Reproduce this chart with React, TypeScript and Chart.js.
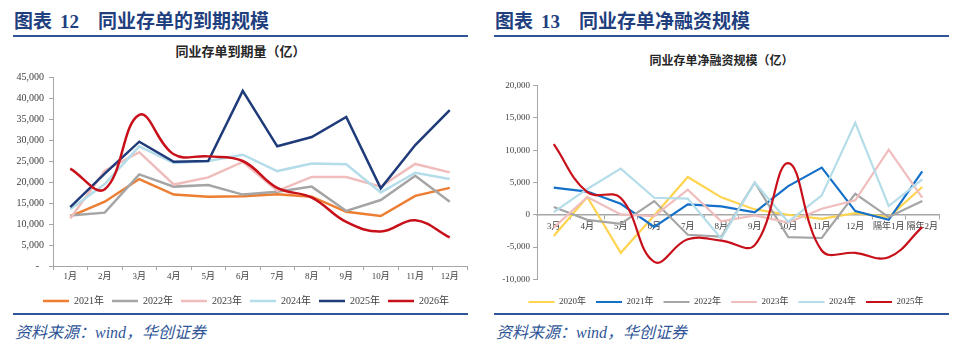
import React, { useEffect, useRef } from 'react';
import { Chart, registerables } from 'chart.js';

Chart.register(...registerables);

// ---------- Left chart: 同业存单到期量（亿） ----------
const maturityMonths = ['1月', '2月', '3月', '4月', '5月', '6月', '7月', '8月', '9月', '10月', '11月', '12月'];
const maturityYears = ['2021年', '2022年', '2023年', '2024年', '2025年', '2026年'];
const maturity2021 = [11800, 15300, 20700, 17000, 16500, 16600, 17100, 16500, 12900, 11900, 16700, 18600];
const maturity2022 = [12000, 12700, 21800, 18900, 19300, 17000, 17700, 18900, 13100, 15700, 21500, 15300];
const maturity2023 = [11300, 22700, 27100, 19400, 21100, 24800, 17900, 21200, 21200, 18900, 24300, 22300];
const maturity2024 = [13500, 19500, 28500, 24500, 25000, 26500, 22600, 24400, 24200, 17500, 22200, 20700];
const maturity2025 = [14000, 22000, 29600, 24800, 25000, 41700, 28500, 30700, 35500, 18500, 28800, 37100];
const maturity2026 = [23200, 18300, 36000, 26600, 26100, 25000, 18600, 16300, 10500, 8200, 10900, 6800];
const maturitySeries = [maturity2021, maturity2022, maturity2023, maturity2024, maturity2025, maturity2026];
const maturityColors = ['#ED7D31', '#A5A5A5', '#F0BDBD', '#B4DDE9', '#1F3B7A', '#C8101A'];
const maturityYMin = 0;
const maturityYMax = 45000;
const maturityYStep = 5000;

// ---------- Right chart: 同业存单净融资规模（亿） ----------
const netMonths = ['3月', '4月', '5月', '6月', '7月', '8月', '9月', '10月', '11月', '12月', '隔年1月', '隔年2月'];
const netYears = ['2020年', '2021年', '2022年', '2023年', '2024年', '2025年'];
const net2020 = [-3300, 2750, -5900, -100, 5850, 2700, 830, 0, -620, 260, -360, 4300];
const net2021 = [4200, 3600, 1700, -1900, 1600, 1300, 360, 4450, 7300, 570, -780, 6730];
const net2022 = [1190, -780, -1400, 2120, -3100, -3400, 5000, -3470, -3600, 3260, -360, 2120];
const net2023 = [-2000, 2750, 50, -200, 3900, -1000, -100, -1200, 930, 2230, 10100, 2640];
const net2024 = [400, 4000, 7150, 2640, 2500, -3700, 4970, -1100, 3000, 14250, 1350, 5490];
const net2025 = [10930, 3500, 2600, -7300, -3800, -4000, -4700, 8000, -5540, -5900, -6580, -1920];
const netSeries = [net2020, net2021, net2022, net2023, net2024, net2025];
const netColors = ['#FFD44F', '#1470C8', '#A5A5A5', '#F0BDBD', '#B4DDE9', '#C8101A'];
const netYMin = -10000;
const netYMax = 20000;
const netYStep = 5000;

const SERIF = "'Liberation Serif', 'Noto Sans CJK SC', serif";
const HEAD = "'Liberation Serif', 'Noto Sans CJK SC', serif";
const AXIS = '#A6A6A6';
const TICK = '#404040';
const BLUE = '#2F5597';
const HEAD_COLOR = '#1F3F7F';

function ChartCanvas(props: { left: number; top: number; width: number; height: number; build: () => any }) {
  const ref = useRef<HTMLCanvasElement>(null);
  useEffect(() => {
    const chart = new Chart(ref.current as HTMLCanvasElement, props.build());
    return () => chart.destroy();
  }, []);
  return (
    <canvas
      ref={ref}
      width={props.width}
      height={props.height}
      style={{ position: 'absolute', left: props.left, top: props.top, width: props.width, height: props.height, zIndex: 2 }}
    />
  );
}

const legendSort = (a: any, b: any) => a.datasetIndex - b.datasetIndex;

// shifts the (centered) legend horizontally so it is centered where the reference has it
function legendShift(dx: number) {
  return {
    id: 'legendShift',
    afterLayout(chart: any) {
      const lg = chart.legend;
      if (lg) {
        lg.left += dx;
        lg.right += dx;
      }
    },
  };
}

function buildMaturity() {
  return {
    type: 'line',
    data: {
      labels: maturityMonths,
      datasets: maturitySeries.map((d, i) => ({
        label: maturityYears[i],
        data: d,
        borderColor: maturityColors[i],
        backgroundColor: maturityColors[i],
        borderWidth: 2.5,
        pointRadius: 0,
        pointHoverRadius: 0,
        tension: i === 5 ? 0.4 : 0,
        order: maturitySeries.length - i,
      })),
    },
    plugins: [legendShift(12.5)],
    options: {
      responsive: false,
      animation: false,
      layout: { padding: { left: 0, right: 13, top: 17, bottom: 2 } },
      plugins: {
        legend: {
          position: 'bottom',
          labels: {
            usePointStyle: true,
            pointStyle: 'line',
            pointStyleWidth: 26,
            padding: 8,
            color: TICK,
            font: { family: SERIF, size: 10 },
            sort: legendSort,
          },
        },
        tooltip: { enabled: false },
      },
      scales: {
        x: {
          type: 'category',
          offset: true,
          grid: { offset: true, drawOnChartArea: false, drawTicks: true, tickLength: 4, color: AXIS },
          border: { display: true, color: AXIS, width: 1 },
          ticks: { color: TICK, font: { family: SERIF, size: 9 }, padding: 1, maxRotation: 0, autoSkip: false },
          afterFit: (s: any) => {
            s.height = 22;
          },
        },
        y: {
          min: maturityYMin,
          max: maturityYMax,
          ticks: {
            stepSize: maturityYStep,
            color: TICK,
            font: { family: SERIF, size: 10 },
            padding: 5,
            callback: (v: any) => (Number(v) === 0 ? '-  ' : Number(v).toLocaleString('en-US')),
          },
          grid: { drawOnChartArea: false, drawTicks: true, tickLength: 4, color: AXIS },
          border: { display: true, color: AXIS, width: 1 },
          afterFit: (s: any) => {
            s.width = 53;
          },
        },
      },
    },
  };
}

function buildNet() {
  return {
    type: 'line',
    data: {
      labels: netMonths,
      datasets: netSeries.map((d, i) => ({
        label: netYears[i],
        data: d,
        borderColor: netColors[i],
        backgroundColor: netColors[i],
        borderWidth: 2.2,
        pointRadius: 0,
        pointHoverRadius: 0,
        tension: i === 5 ? 0.4 : 0,
        order: netSeries.length - i,
      })),
    },
    plugins: [legendShift(16)],
    options: {
      responsive: false,
      animation: false,
      layout: { padding: { left: 0, right: 21, top: 15.7, bottom: 3.5 } },
      plugins: {
        legend: {
          position: 'bottom',
          title: { display: true, text: ' ', font: { size: 1 }, padding: { top: 7, bottom: 0 } },
          labels: {
            usePointStyle: true,
            pointStyle: 'line',
            pointStyleWidth: 26,
            padding: 10,
            color: TICK,
            font: { family: SERIF, size: 9 },
            sort: legendSort,
          },
        },
        tooltip: { enabled: false },
      },
      scales: {
        y: {
          min: netYMin,
          max: netYMax,
          ticks: {
            stepSize: netYStep,
            color: TICK,
            font: { family: SERIF, size: 9 },
            padding: 3,
            callback: (v: any) => Number(v).toLocaleString('en-US'),
          },
          grid: { drawOnChartArea: false, drawTicks: true, tickLength: 4, color: AXIS },
          border: { display: true, color: AXIS, width: 1 },
          afterFit: (s: any) => {
            s.width = 56;
          },
        },
        x: {
          type: 'category',
          position: { y: 0 },
          offset: true,
          grid: { offset: true, drawOnChartArea: false, drawTicks: true, tickLength: 4, color: AXIS },
          border: { display: true, color: AXIS, width: 1.5 },
          ticks: { color: TICK, font: { family: SERIF, size: 9 }, padding: 2, maxRotation: 0, autoSkip: false },
        },
      },
    },
  };
}

function Panel(props: { x: number; num: string; title: string; chartTitle: string; chartTitleTop: number; chartTitleSize: number }) {
  const { x } = props;
  return (
    <>
      <div
        style={{
          position: 'absolute',
          left: x + 14,
          top: 12,
          height: 20,
          lineHeight: '20px',
          fontSize: 19,
          fontWeight: 700,
          fontFamily: HEAD,
          color: HEAD_COLOR,
          whiteSpace: 'nowrap',
        }}
      >
        <span>图表</span>
        <span style={{ marginLeft: 8 }}>{props.num}</span>
        <span style={{ marginLeft: 19 }}>{props.title}</span>
      </div>
      <div style={{ position: 'absolute', left: x + 13, top: 35, width: 455, height: 2, background: BLUE }} />
      <div
        style={{
          position: 'absolute',
          left: x,
          width: 481,
          top: props.chartTitleTop,
          height: 16,
          lineHeight: '16px',
          textAlign: 'center',
          fontSize: props.chartTitleSize,
          fontWeight: 700,
          fontFamily: SERIF,
          color: '#262626',
          whiteSpace: 'nowrap',
        }}
      >
        {props.chartTitle}
      </div>
      <div style={{ position: 'absolute', left: x + 13, top: 313, width: 455, height: 2, background: BLUE, zIndex: 3 }} />
      <div
        style={{
          position: 'absolute',
          left: x + 15,
          top: 324,
          height: 18,
          lineHeight: '18px',
          fontSize: 16,
          fontStyle: 'italic',
          fontFamily: SERIF,
          color: BLUE,
          whiteSpace: 'nowrap',
        }}
      >
        资料来源：wind，华创证券
      </div>
    </>
  );
}

export default function App() {
  return (
    <div style={{ position: 'absolute', left: 0, top: 0, width: 960, height: 350, background: '#fff', overflow: 'hidden' }}>
      <Panel x={0} num="12" title="同业存单的到期规模" chartTitle="同业存单到期量（亿）" chartTitleTop={44} chartTitleSize={13} />
      <Panel x={481} num="13" title="同业存单净融资规模" chartTitle="同业存单净融资规模（亿）" chartTitleTop={53} chartTitleSize={12} />
      <ChartCanvas left={0} top={60} width={480} height={258} build={buildMaturity} />
      <ChartCanvas left={481} top={70} width={479} height={250} build={buildNet} />
    </div>
  );
}
